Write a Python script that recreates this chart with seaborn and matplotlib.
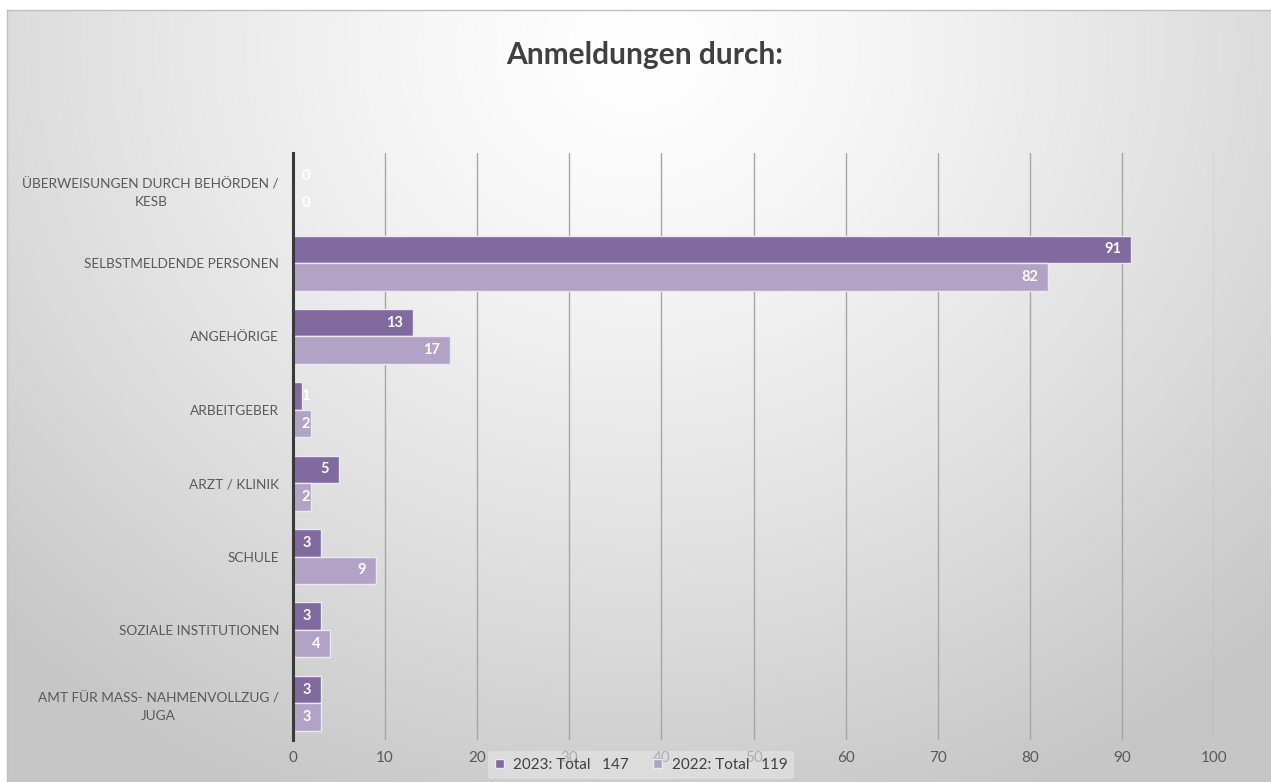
import numpy as np
import pandas as pd
import matplotlib
matplotlib.use("Agg")
import matplotlib.pyplot as plt
import seaborn as sns

# ---- data ----
categories = [
    "ÜBERWEISUNGEN DURCH BEHÖRDEN /\nKESB",
    "SELBSTMELDENDE PERSONEN",
    "ANGEHÖRIGE",
    "ARBEITGEBER",
    "ARZT / KLINIK",
    "SCHULE",
    "SOZIALE INSTITUTIONEN",
    "AMT FÜR MASS- NAHMENVOLLZUG /\nJUGA",
]
values_2023 = [0, 91, 13, 1, 5, 3, 3, 3]
values_2022 = [0, 82, 17, 2, 2, 9, 4, 3]
series_labels = ["2023: Total   147", "2022: Total   119"]
x_ticks = [0, 10, 20, 30, 40, 50, 60, 70, 80, 90, 100]
title = "Anmeldungen durch:"

df = pd.DataFrame({
    "cat": categories * 2,
    "value": values_2023 + values_2022,
    "series": [series_labels[0]] * len(categories) + [series_labels[1]] * len(categories),
})

FONT = "Lato"
W, H = 1271, 782
fig = plt.figure(figsize=(W / 100, H / 100), dpi=100)
fig.patch.set_facecolor("white")

# background gradient panel
bg = fig.add_axes([7 / W, 0, 1 - 7 / W, 1 - 10 / H])
yy, xx = np.mgrid[0:772, 0:1264]
r = np.sqrt(((xx - 630) / 1.0) ** 2 + ((yy - 40) / 0.9) ** 2)
shade = 1.0 - 0.22 * np.clip(r / 900, 0, 1) ** 1.3
img = np.dstack([shade, shade, shade])
bg.imshow(img, aspect="auto", extent=[0, 1, 0, 1], origin="upper")
bg.set_xlim(0, 1); bg.set_ylim(0, 1)
for s in ["top", "left"]:
    bg.spines[s].set_color("#BFBFBF"); bg.spines[s].set_linewidth(1)
for s in ["bottom", "right"]:
    bg.spines[s].set_visible(False)
bg.set_xticks([]); bg.set_yticks([])
bg.set_zorder(0)

# main axes
left, right, top, bottom = 293, 1214, 153, 740
ax = fig.add_axes([left / W, 1 - bottom / H, (right - left) / W, (bottom - top) / H])
ax.set_zorder(1)
ax.patch.set_alpha(0)

palette = {series_labels[0]: "#806A9E", series_labels[1]: "#B2A3C6"}
sns.barplot(data=df, y="cat", x="value", hue="series", orient="h",
            palette=palette, width=0.75, ax=ax, edgecolor="#EDE6F3",
            linewidth=1, saturation=1, legend=True)

ax.set_xlim(0, 100)
ax.set_ylim(len(categories) - 0.5, -0.5)
ax.set_xticks(x_ticks)
ax.set_xticklabels([str(t) for t in x_ticks], fontsize=11, color="#595959", family=FONT)
ax.tick_params(axis="x", length=0, pad=8)
ax.tick_params(axis="y", length=0, pad=10)
for lbl in ax.get_yticklabels():
    lbl.set_fontsize(9.8)
    lbl.set_color("#595959")
    lbl.set_family(FONT)
    lbl.set_multialignment("center")
    lbl.set_linespacing(1.55)
ax.set_xlabel(""); ax.set_ylabel("")
ax.grid(axis="x", color="#A6A6A6", linewidth=1)
ax.grid(axis="y", visible=False)
ax.set_axisbelow(True)
for s in ["top", "right", "bottom"]:
    ax.spines[s].set_visible(False)
ax.spines["left"].set_color("#3A3A3A")
ax.spines["left"].set_linewidth(2.2)
ax.spines["left"].set_zorder(5)

# value labels
for cont in ax.containers:
    for bar in cont:
        v = bar.get_width()
        yc = bar.get_y() + bar.get_height() / 2
        if v <= 2.2:
            ax.annotate(f"{int(round(v))}", (0, yc), xytext=(6, 0), textcoords="offset points",
                        ha="left", va="center", color="white", fontsize=10.5,
                        fontweight="bold", family=FONT)
        else:
            ax.annotate(f"{int(round(v))}", (v, yc), xytext=(-7, 0), textcoords="offset points",
                        ha="right", va="center", color="white", fontsize=10.5,
                        fontweight="bold", family=FONT)

# legend
handles, labels = ax.get_legend_handles_labels()
ax.get_legend().remove()
leg = fig.legend(handles, labels, loc="center", bbox_to_anchor=(641 / W, 1 - 765 / H),
                 ncol=2, frameon=True, handlelength=0.6, handleheight=0.6,
                 columnspacing=1.6, handletextpad=0.6, borderpad=0.45,
                 prop={"family": FONT, "size": 11})
leg.get_frame().set_facecolor("#E6E6E6")
leg.get_frame().set_edgecolor("none")
leg.get_frame().set_alpha(0.6)
for t in leg.get_texts():
    t.set_color("#404040")
leg.set_zorder(10)

fig.text(645 / W, 1 - 55 / H, title, ha="center", va="center", fontsize=21.5,
         fontweight="bold", color="#404040", family=FONT)

fig.savefig("out.png", dpi=100)
